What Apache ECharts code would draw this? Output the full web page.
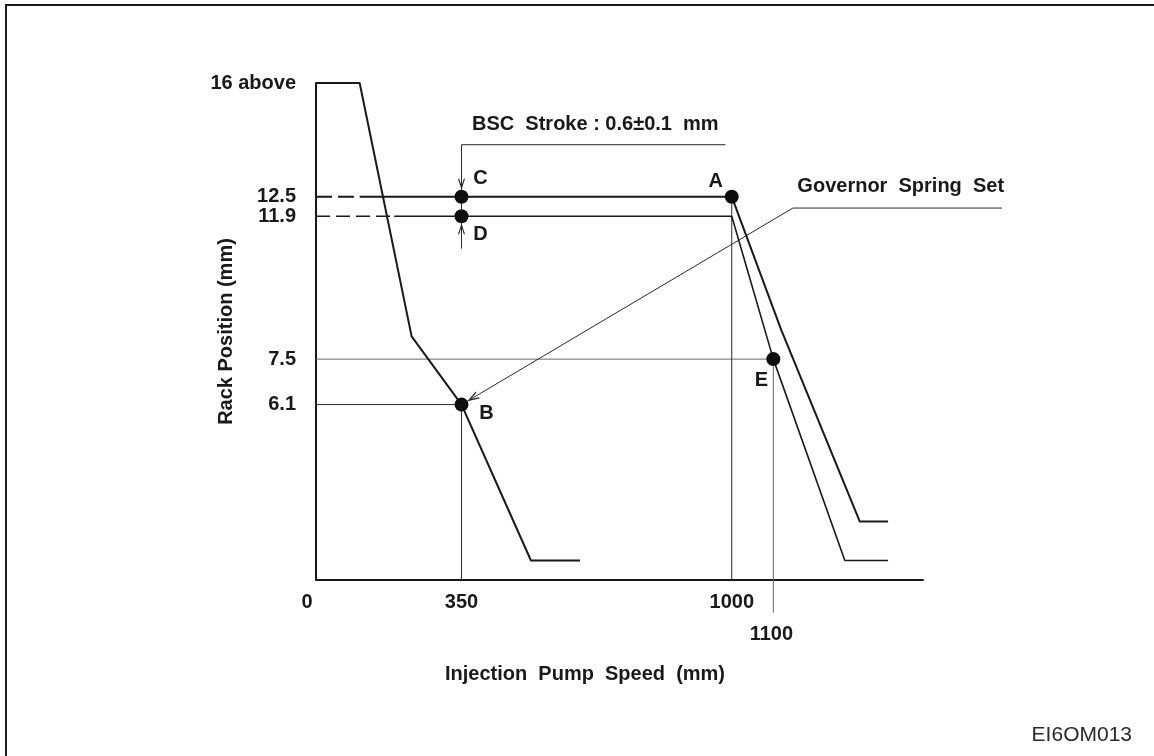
<!DOCTYPE html>
<html>
<head>
<meta charset="utf-8">
<script src="https://cdn.jsdelivr.net/npm/echarts@6/dist/echarts.min.js"></script>
<style>
html,body{margin:0;padding:0;background:#fff;overflow:hidden;}
#chart{width:1154px;height:756px;position:absolute;left:0;top:0;}
#frame{position:absolute;left:5px;top:4px;width:1200px;height:800px;border-left:2px solid #1a1a1a;border-top:2px solid #1a1a1a;pointer-events:none;}
</style>
</head>
<body>
<div id="chart"></div>
<div id="frame"></div>
<script>
// ---- tick labels ----
const xTickValues = [0, 350, 1000];
const xTickLabels = ['0', '350', '1000'];
const yTickValues = [16, 12.5, 11.9, 7.5, 6.1];
const yTickLabels = ['16 above', '12.5', '11.9', '7.5', '6.1'];

// ---- governor curves: [pump speed, rack position (mm)] ----
const startCurve = [[0, 16], [105, 16], [230, 8.2], [350, 6.1], [517, 1.3], [635, 1.3]];
const upperDashed = [[0, 12.5], [105, 12.5]];
const upperCurve = [[105, 12.5], [1000, 12.5], [1119, 8.4], [1308, 2.5], [1376, 2.5]];
const lowerDashed = [[0, 11.9], [188, 11.9]];
const lowerCurve = [[188, 11.9], [1000, 11.9], [1100, 7.5], [1272, 1.3], [1376, 1.3]];

// ---- guide / leader lines ----
const guideB = [[0, 6.1], [350, 6.1], [350, 0.7]];
const guideE = [[0, 7.5], [1100, 7.5], [1100, -0.3]];
const guideA = [[1000, 12.5], [1000, 0.7]];
const bscLeader = [[985, 14.1], [350, 14.1], [350, 10.9]];
const governorLeader = [[1650, 12.15], [1147, 12.15], [350, 6.1]];

// ---- check points ----
const pointNames = ['C', 'A', 'D', 'B', 'E'];
const pointValues = [[350, 12.5], [1000, 12.5], [350, 11.9], [350, 6.1], [1100, 7.5]];

// ---- annotation texts ----
const bscText = 'BSC  Stroke : 0.6\u00B10.1  mm';
const governorText = 'Governor  Spring  Set';
const speed1100Label = '1100';
const xTitle = 'Injection  Pump  Speed  (mm)';
const yTitle = 'Rack Position (mm)';
const figureCode = 'EI6OM013';

// axis ranges
const X_MAX = 1460, X_MAX_WIDE = 1700, Y_MIN = 0.7, Y_MAX = 16;

const FONT = "'Liberation Sans', Arial, Helvetica, sans-serif";
const INK = '#1a1818';
const CHEVRON = 'path://M5,0 L10,12 L8.2,12 L5,4 L1.8,12 L0,12 Z';
const GRID_LEFT = 316, GRID_TOP = 83, GRID_W = 607, GRID_H = 497;

const chart = echarts.init(document.getElementById('chart'), null, {renderer: 'canvas'});

const labelOffsets = {C: [19, -18], A: [-16, -15], D: [19, 18], B: [25, 9], E: [-12, 21]};
const textStyle = {fontFamily: FONT, fontWeight: 'bold', fontSize: 20, color: INK};

function thick(data, extra) {
  return Object.assign({
    type: 'line', data: data, symbol: 'none', silent: true, animation: false,
    lineStyle: {color: INK, width: 2}, z: 3
  }, extra || {});
}
function thin(data, color, extra) {
  return Object.assign({
    type: 'line', data: data, symbol: 'none', silent: true, animation: false,
    lineStyle: {color: color, width: 1}, z: 2
  }, extra || {});
}

const option = {
  animation: false,
  backgroundColor: '#fff',
  title: [{
    text: figureCode, right: 22, bottom: 10, padding: 0,
    textStyle: {fontFamily: FONT, fontWeight: 'normal', fontSize: 21, color: '#2a2a2a'}
  }],
  grid: [
    {left: GRID_LEFT, top: GRID_TOP, width: GRID_W, height: GRID_H, outerBoundsMode: 'none'},
    // same scale, wider extent, used only for the annotation leader that runs past the axis end
    {left: GRID_LEFT, top: GRID_TOP, width: GRID_W * X_MAX_WIDE / X_MAX, height: GRID_H, outerBoundsMode: 'none'}
  ],
  xAxis: [{
    type: 'value', min: 0, max: X_MAX, gridIndex: 0,
    axisLine: {onZero: false, lineStyle: {color: INK, width: 2}},
    axisTick: {show: false},
    splitLine: {show: false},
    axisLabel: Object.assign({
      customValues: xTickValues,
      margin: 12,
      formatter: function (v) {
        const i = xTickValues.indexOf(v);
        const t = i >= 0 ? xTickLabels[i] : '';
        return v === 0 ? '{z|' + t + '}' : t;
      },
      rich: {z: Object.assign({padding: [0, 18, 0, 0]}, textStyle)}
    }, textStyle),
    name: xTitle, nameLocation: 'middle', nameGap: 84, nameMoveOverlap: false,
    nameTextStyle: Object.assign({padding: [0, 69, 0, 0]}, textStyle)
  }, {
    type: 'value', min: 0, max: X_MAX_WIDE, gridIndex: 1, show: false,
    axisLine: {onZero: false}, splitLine: {show: false}
  }],
  yAxis: [{
    type: 'value', min: Y_MIN, max: Y_MAX, gridIndex: 0,
    axisLine: {onZero: false, lineStyle: {color: INK, width: 2}},
    axisTick: {show: false},
    splitLine: {show: false},
    axisLabel: Object.assign({
      customValues: yTickValues,
      margin: 20,
      formatter: function (v) {
        const i = yTickValues.indexOf(v);
        return i >= 0 ? yTickLabels[i] : '';
      }
    }, textStyle),
    name: yTitle, nameLocation: 'middle', nameGap: 80, nameRotate: 90, nameMoveOverlap: false,
    nameTextStyle: textStyle
  }, {
    type: 'value', min: Y_MIN, max: Y_MAX, gridIndex: 1, show: false,
    axisLine: {onZero: false}, splitLine: {show: false}
  }],
  series: [
    thick(startCurve),
    thick(upperDashed, {lineStyle: {color: INK, width: 2, type: [16, 6]}}),
    thick(upperCurve),
    thick(lowerDashed, {lineStyle: {color: INK, width: 1.6, type: [14, 6]}}),
    thick(lowerCurve, {lineStyle: {color: INK, width: 1.6}}),
    thin(guideB, '#2a2a2a'),
    thin(guideE, '#666', {clip: false}),
    thin(guideA, '#2a2a2a'),
    thin(bscLeader, '#2a2a2a'),
    thin(governorLeader, '#2a2a2a', {clip: false, xAxisIndex: 1, yAxisIndex: 1}),
    {
      // check points with letters
      type: 'scatter', silent: true, z: 5, symbol: 'circle', symbolSize: 14,
      itemStyle: {color: '#0d0d0d', opacity: 1},
      data: pointValues.map(function (p, i) {
        return {
          value: p, name: pointNames[i],
          label: Object.assign({
            show: true, position: 'inside', formatter: '{b}',
            offset: labelOffsets[pointNames[i]]
          }, textStyle)
        };
      })
    },
    {
      // arrow heads (C from above, D from below, B along governor leader)
      type: 'scatter', silent: true, z: 4, symbol: CHEVRON,
      itemStyle: {color: '#2a2a2a', opacity: 1},
      data: [
        {value: pointValues[0], symbolSize: [7, 11], symbolRotate: 180, symbolOffset: [0, -12.5]},
        {value: pointValues[2], symbolSize: [7, 11], symbolRotate: 0, symbolOffset: [0, 12.5]},
        {value: pointValues[3], symbolSize: [8, 12], symbolRotate: 120.7, symbolOffset: [11, -6.5]}
      ]
    },
    {
      // annotation texts
      type: 'scatter', silent: true, z: 6, symbol: 'circle', symbolSize: 1, clip: false,
      xAxisIndex: 1, yAxisIndex: 1,
      itemStyle: {color: 'rgba(0,0,0,0)', opacity: 1},
      label: Object.assign({show: true}, textStyle),
      data: [
        {value: bscLeader[1], label: {position: 'right', distance: 0, offset: [10, -20], formatter: bscText}},
        {value: governorLeader[1], label: {position: 'right', distance: 0, offset: [4, -22], formatter: governorText}},
        {value: guideE[2], label: {position: 'bottom', distance: 0, offset: [-2, 12], formatter: speed1100Label}}
      ]
    }
  ]
};
chart.setOption(option);
</script>
</body>
</html>
